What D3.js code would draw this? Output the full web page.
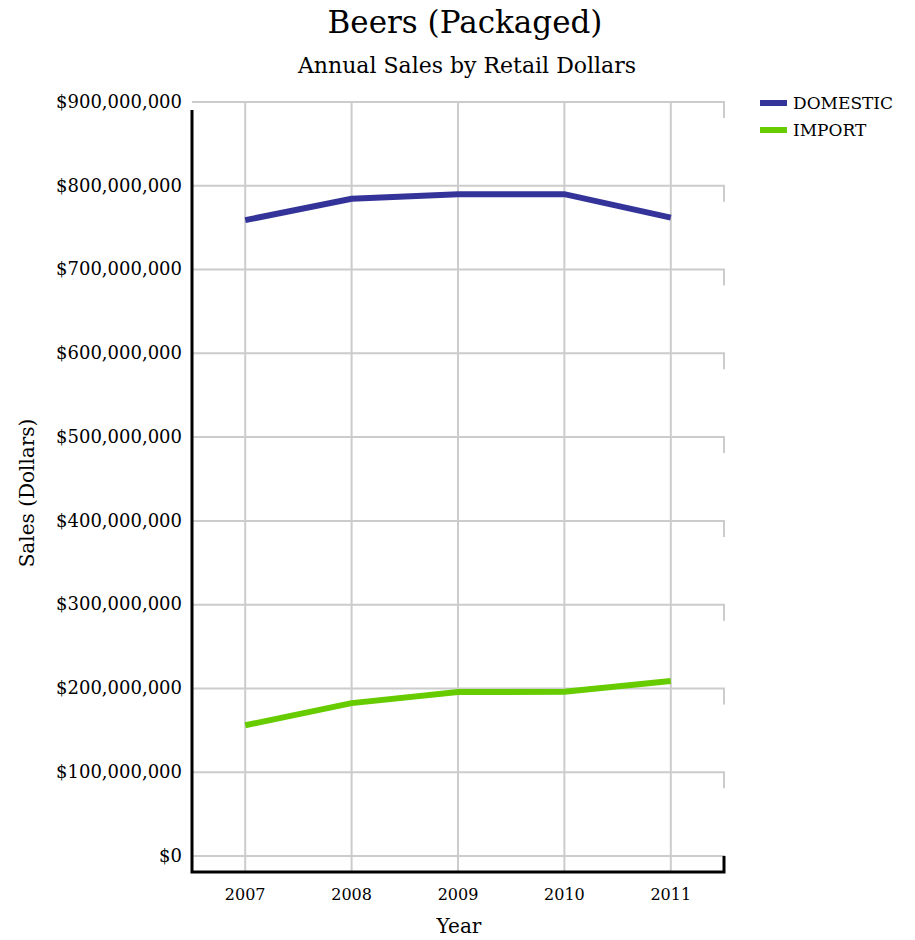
<!DOCTYPE html>
<html>
<head>
<meta charset="utf-8">
<script src="https://cdn.jsdelivr.net/npm/d3@7"></script>
<style>
  body { margin: 0; background: #fff; }
  text { font-family: "DejaVu Serif", serif; fill: #000; }
</style>
</head>
<body>
<svg width="915" height="940"></svg>
<script>
var years = ["2007", "2008", "2009", "2010", "2011"];
var domestic = [759000000, 784500000, 790000000, 790000000, 762000000];
var imports = [156000000, 182500000, 195700000, 196000000, 209000000];
var seriesNames = ["DOMESTIC", "IMPORT"];
var yTicks = [0, 100000000, 200000000, 300000000, 400000000, 500000000, 600000000, 700000000, 800000000, 900000000];

var svg = d3.select("svg"),
    margin = {top: 102, left: 192},
    width = 532,
    height = 754,
    depth = 16;

var colours = d3.scaleOrdinal().domain(seriesNames).range(["#333399", "#66cc00"]);

var x = d3.scalePoint().domain(years).range([0, width]).padding(0.5),
    y = d3.scaleLinear().domain([0, 900000000]).range([height, 0]);

var g = svg.append("g")
    .attr("transform", "translate(" + margin.left + "," + margin.top + ")");

var fmt = function(d) { return "$" + d3.format(",")(d); };

// horizontal grid, with the little drop at the right end
g.selectAll(".hgrid")
    .data(yTicks)
  .enter().append("path")
    .attr("class", "hgrid")
    .attr("fill", "none")
    .attr("stroke", "#cccccc")
    .attr("stroke-width", 2)
    .attr("d", function(d) { return "M0," + y(d) + "H" + width + "V" + (y(d) + depth); });

// vertical grid
g.selectAll(".vgrid")
    .data(years)
  .enter().append("line")
    .attr("class", "vgrid")
    .attr("x1", function(d) { return x(d); })
    .attr("x2", function(d) { return x(d); })
    .attr("y1", 0)
    .attr("y2", height + depth)
    .attr("stroke", "#cccccc")
    .attr("stroke-width", 2);

// axes lines
g.append("path")
    .attr("fill", "none")
    .attr("stroke", "#000")
    .attr("stroke-width", 3)
    .attr("d", "M0," + (y(900000000) + 8) + "V" + (height + depth) + "H" + width + "V" + height);

// y labels
g.selectAll(".ylab")
    .data(yTicks)
  .enter().append("text")
    .attr("class", "ylab")
    .attr("x", -10)
    .attr("y", function(d) { return y(d); })
    .attr("dy", "0.32em")
    .attr("text-anchor", "end")
    .style("font-size", "18px")
    .text(fmt);

// x labels
g.selectAll(".xlab")
    .data(years)
  .enter().append("text")
    .attr("class", "xlab")
    .attr("x", function(d) { return x(d); })
    .attr("y", height + depth + 28)
    .attr("text-anchor", "middle")
    .style("font-size", "16px")
    .text(function(d) { return d; });

var line = d3.line()
    .x(function(d, i) { return x(years[i]); })
    .y(function(d) { return y(d); });

[domestic, imports].forEach(function(vals, i) {
  g.append("path")
      .datum(vals)
      .attr("fill", "none")
      .attr("stroke", colours(seriesNames[i]))
      .attr("stroke-width", 6)
      .attr("d", line);
});

// titles
svg.append("text").attr("x", 465).attr("y", 33).attr("text-anchor", "middle")
    .style("font-size", "31px").text("Beers (Packaged)");
svg.append("text").attr("x", 467).attr("y", 73).attr("text-anchor", "middle")
    .style("font-size", "22px").text("Annual Sales by Retail Dollars");
svg.append("text").attr("x", 459).attr("y", 933).attr("text-anchor", "middle")
    .style("font-size", "20px").text("Year");
svg.append("text").attr("transform", "translate(34,493) rotate(-90)").attr("text-anchor", "middle")
    .style("font-size", "20px").text("Sales (Dollars)");

// legend
var legend = svg.selectAll(".legend")
    .data(seriesNames)
  .enter().append("g")
    .attr("class", "legend")
    .attr("transform", function(d, i) { return "translate(760," + (103 + i * 27) + ")"; });
legend.append("line")
    .attr("x1", 0).attr("x2", 27)
    .attr("stroke", function(d) { return colours(d); })
    .attr("stroke-width", 6);
legend.append("text")
    .attr("x", 33).attr("dy", "0.35em")
    .style("font-size", "17px")
    .text(function(d) { return d; });
</script>
</body>
</html>
